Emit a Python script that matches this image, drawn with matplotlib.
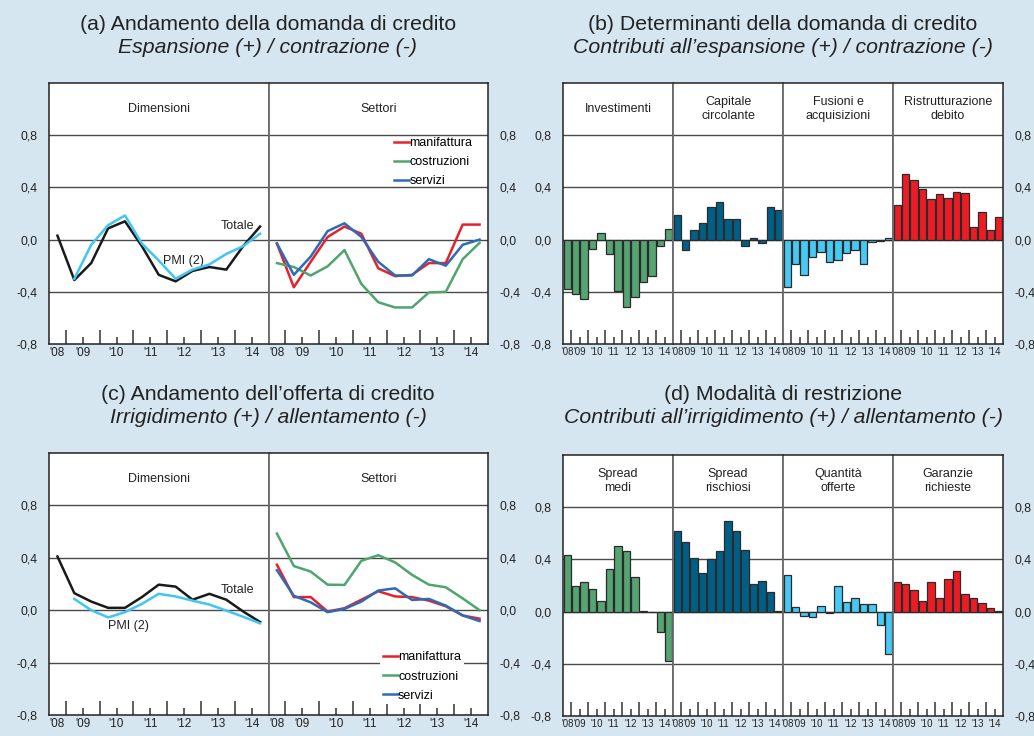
import matplotlib
matplotlib.use('Agg')
import matplotlib.pyplot as plt

plt.rcParams['font.family'] = ['Liberation Sans', 'DejaVu Sans']

# ---------------- data ----------------
year_labels = ["'08", "'09", "'10", "'11", "'12", "'13", "'14"]
obs = list(range(13))  # semiannual observations 2008 H2 ... 2014 H2

# (a) credit demand
a_totale = [0.03, -0.31, -0.18, 0.086, 0.14, -0.05, -0.27, -0.32, -0.24, -0.21, -0.23, -0.05, 0.10]
a_pmi = [None, -0.30, -0.04, 0.11, 0.185, -0.03, -0.16, -0.30, -0.23, -0.19, -0.11, -0.05, 0.045]
a_manif = [-0.03, -0.365, -0.17, 0.02, 0.10, 0.045, -0.22, -0.28, -0.27, -0.18, -0.18, 0.115, 0.115]
a_costr = [-0.18, -0.21, -0.275, -0.205, -0.08, -0.34, -0.48, -0.52, -0.52, -0.405, -0.40, -0.15, -0.025]
a_serv = [-0.03, -0.27, -0.13, 0.065, 0.125, 0.02, -0.17, -0.275, -0.275, -0.15, -0.20, -0.04, 0.0]

# (b) determinants of demand
b_invest = [-0.38, -0.418, -0.456, -0.071, 0.051, -0.11, -0.392, -0.52, -0.438, -0.324, -0.278, -0.048, 0.082]
b_capit = [0.189, -0.076, 0.071, 0.127, 0.25, 0.29, 0.155, 0.155, -0.046, 0.013, -0.025, 0.25, 0.227]
b_fusioni = [-0.363, -0.19, -0.27, -0.134, -0.096, -0.174, -0.159, -0.101, -0.076, -0.187, -0.02, -0.013, 0.01]
b_ristr = [0.265, 0.505, 0.46, 0.389, 0.31, 0.353, 0.32, 0.363, 0.358, 0.10, 0.21, 0.076, 0.17]

# (c) credit supply
c_totale = [0.41, 0.13, 0.066, 0.018, 0.018, 0.10, 0.195, 0.18, 0.08, 0.125, 0.08, -0.01, -0.09]
c_pmi = [None, 0.086, 0.0, -0.055, -0.015, 0.048, 0.125, 0.105, 0.073, 0.043, -0.003, -0.05, -0.10]
c_manif = [0.347, 0.10, 0.10, -0.01, 0.015, 0.08, 0.145, 0.105, 0.10, 0.073, 0.03, -0.04, -0.065]
c_costr = [0.585, 0.337, 0.295, 0.195, 0.193, 0.377, 0.42, 0.365, 0.27, 0.195, 0.175, 0.09, 0.0]
c_serv = [0.305, 0.11, 0.06, -0.015, 0.01, 0.066, 0.15, 0.167, 0.078, 0.086, 0.035, -0.04, -0.083]

# (d) restriction modalities
d_spread_medi = [0.435, 0.20, 0.227, 0.173, 0.079, 0.326, 0.50, 0.464, 0.262, 0.005, -0.003, -0.16, -0.375]
d_spread_risch = [0.617, 0.532, 0.413, 0.296, 0.405, 0.464, 0.698, 0.614, 0.471, 0.214, 0.234, 0.153, 0.002]
d_quantita = [0.28, 0.038, -0.033, -0.038, 0.04, -0.013, 0.194, 0.074, 0.102, 0.056, 0.059, -0.099, -0.324]
d_garanzie = [0.227, 0.214, 0.163, 0.079, 0.227, 0.104, 0.25, 0.311, 0.135, 0.107, 0.066, 0.031, 0.005]

ytick_vals = [-0.8, -0.4, 0.0, 0.4, 0.8]
ytick_labels = ['-0,8', '-0,4', '0,0', '0,4', '0,8']

# ---------------- styling ----------------
BG = '#d5e6f0'
C_BLACK = '#1a1a1a'
C_PMI = '#40c6f0'
C_RED = '#e8202a'
C_GREEN = '#4fa56d'
C_BLUE = '#2a6cb8'
BAR_GREEN = '#55a472'
BAR_DBLUE = '#005f86'
BAR_LBLUE = '#48c9f4'
BAR_RED = '#ed1c24'
GRID = '#4a4a4a'

W, H = 1034, 736
fig = plt.figure(figsize=(W / 100, H / 100), dpi=100, facecolor=BG)


def ax_at(l, t, r, b):
    return fig.add_axes([l / W, 1 - b / H, (r - l) / W, (b - t) / H])


major_x = [0.5, 2.5, 4.5, 6.5, 8.5, 10.5]
label_x = [0, 1.5, 3.5, 5.5, 7.5, 9.5, 11.5]


def setup(ax, first, last, label, xfs):
    ax.set_xlim(-0.5, 12.5)
    ax.set_ylim(-0.8, 1.2)
    ax.set_facecolor('white')
    for y in [0.8, 0.4, 0.0, -0.4]:
        ax.axhline(y, color=GRID, lw=1.0, zorder=1)
    for s in ['top', 'bottom']:
        ax.spines[s].set_color('#222222')
        ax.spines[s].set_linewidth(1.1)
    ax.spines['left'].set_color('#222222' if first else '#6a6a6a')
    ax.spines['left'].set_linewidth(1.1 if first else 1.3)
    ax.spines['right'].set_color('#222222' if last else '#6a6a6a')
    ax.spines['right'].set_linewidth(1.1 if last else 1.3)
    ax.set_xticks(major_x)
    ax.set_xticklabels([])
    ax.set_xticks(label_x, minor=True)
    ax.set_xticklabels(year_labels, minor=True, fontsize=xfs, color='#222222')
    ax.tick_params(axis='x', which='major', direction='in', length=10, width=1.1, color='#333333')
    ax.tick_params(axis='x', which='minor', direction='in', length=5, width=1.1, color='#333333', pad=2)
    ax.xaxis.get_minor_ticks()[0].tick1line.set_visible(False)
    ax.set_yticks(ytick_vals)
    ax.set_yticklabels(ytick_labels, fontsize=8.8, color='#222222')
    ax.tick_params(axis='y', length=0, pad=8.5, left=first, labelleft=first,
                   right=last, labelright=last)
    ax.text(6, 1.0, label, ha='center', va='center', fontsize=9, color='#222222',
            linespacing=1.2)


LW = 1.8

# ---------------- (a) ----------------
axa1 = ax_at(49, 83, 268.5, 344)
axa2 = ax_at(268.5, 83, 488, 344)
setup(axa1, True, False, 'Dimensioni', 8.5)
setup(axa2, False, True, 'Settori', 8.5)
axa1.plot(obs, a_totale, color=C_BLACK, lw=LW, zorder=3)
axa1.plot(obs, a_pmi, color=C_PMI, lw=LW, zorder=4)
axa1.text(10.65, 0.06, 'Totale', fontsize=9, color='#222222', ha='center', va='bottom')
axa1.text(7.45, -0.165, 'PMI (2)', fontsize=9, color='#222222', ha='center', va='center')
axa2.plot(obs, a_manif, color=C_RED, lw=LW, zorder=3, label='manifattura')
axa2.plot(obs, a_costr, color=C_GREEN, lw=LW, zorder=3, label='costruzioni')
axa2.plot(obs, a_serv, color=C_BLUE, lw=LW, zorder=4, label='servizi')
axa2.legend(loc='upper left', bbox_to_anchor=(394 / W, 1 - 137 / H), bbox_transform=fig.transFigure,
            frameon=False, fontsize=9, handlelength=1.2, handletextpad=0.05, borderpad=0,
            borderaxespad=0, labelspacing=0.57)

# ---------------- (c) ----------------
axc1 = ax_at(49, 453, 268.5, 715)
axc2 = ax_at(268.5, 453, 488, 715)
setup(axc1, True, False, 'Dimensioni', 8.5)
setup(axc2, False, True, 'Settori', 8.5)
axc1.plot(obs, c_totale, color=C_BLACK, lw=LW, zorder=3)
axc1.plot(obs, c_pmi, color=C_PMI, lw=LW, zorder=4)
axc1.text(10.65, 0.155, 'Totale', fontsize=9, color='#222222', ha='center', va='center')
axc1.text(4.2, -0.12, 'PMI (2)', fontsize=9, color='#222222', ha='center', va='center')
axc2.plot(obs, c_manif, color=C_RED, lw=LW, zorder=3, label='manifattura')
axc2.plot(obs, c_costr, color=C_GREEN, lw=LW, zorder=3, label='costruzioni')
axc2.plot(obs, c_serv, color=C_BLUE, lw=LW, zorder=4, label='servizi')
leg = axc2.legend(loc='upper left', bbox_to_anchor=(380 / W, 1 - 649 / H), bbox_transform=fig.transFigure,
                  frameon=True, fontsize=9, handlelength=1.2, handletextpad=0.05, borderpad=0.2,
                  borderaxespad=0, labelspacing=0.57, fancybox=False)
leg.get_frame().set_facecolor('white')
leg.get_frame().set_edgecolor('none')
leg.get_frame().set_alpha(1)

# ---------------- bar panels ----------------
def bar_panel(top, bottom, series, colors, labels):
    xs = [563, 673, 783, 893, 1003]
    axes = []
    for i in range(4):
        ax = ax_at(xs[i], top, xs[i + 1], bottom)
        setup(ax, i == 0, i == 3, labels[i], 6.9)
        ax.bar(obs, series[i], width=0.88, color=colors[i], edgecolor='#2b2b2b',
               linewidth=0.9, zorder=3)
        axes.append(ax)
    return axes


bar_panel(83, 344, [b_invest, b_capit, b_fusioni, b_ristr],
          [BAR_GREEN, BAR_DBLUE, BAR_LBLUE, BAR_RED],
          ['Investimenti', 'Capitale\ncircolante', 'Fusioni e\nacquisizioni', 'Ristrutturazione\ndebito'])
bar_panel(455, 716, [d_spread_medi, d_spread_risch, d_quantita, d_garanzie],
          [BAR_GREEN, BAR_DBLUE, BAR_LBLUE, BAR_RED],
          ['Spread\nmedi', 'Spread\nrischiosi', 'Quantità\nofferte', 'Garanzie\nrichieste'])

# ---------------- titles ----------------
def title(xc, ybase, l1, l2):
    fig.text(xc / W, 1 - ybase / H, l1, ha='center', va='baseline', fontsize=15.3, color='#222222')
    fig.text(xc / W, 1 - (ybase + 23) / H, l2, ha='center', va='baseline', fontsize=15.3,
             style='italic', color='#222222')


title(268, 30, '(a) Andamento della domanda di credito', 'Espansione (+) / contrazione (-)')
title(783, 30, '(b) Determinanti della domanda di credito',
      'Contributi all\u2019espansione (+) / contrazione (-)')
title(268, 400, '(c) Andamento dell\u2019offerta di credito', 'Irrigidimento (+) / allentamento (-)')
title(783, 400, '(d) Modalità di restrizione',
      'Contributi all\u2019irrigidimento (+) / allentamento (-)')

fig.savefig('out.png', dpi=100, facecolor=BG)
